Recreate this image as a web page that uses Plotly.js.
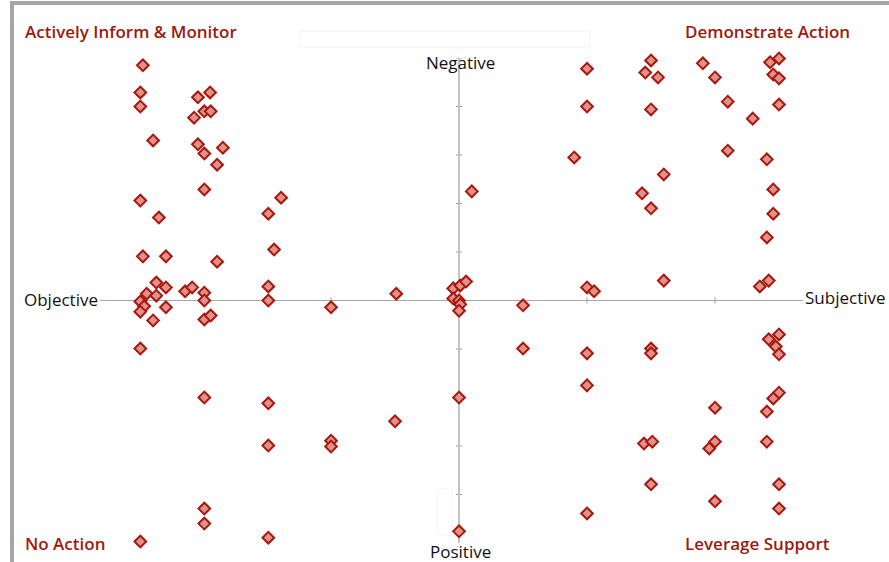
<!DOCTYPE html>
<html>
<head>
<meta charset="utf-8">
<script src="https://cdn.plot.ly/plotly-3.0.1.min.js"></script>
<style>
html,body{margin:0;padding:0;background:#fff;}
#chart{width:889px;height:562px;}
</style>
</head>
<body>
<div id="chart"></div>
<script>
// Horizontal position: Objective (-5) ... Subjective (+5)
// Vertical position: Positive (-5) ... Negative (+5)
const xValues = [
  -4.94,-4.98,-4.98,-4.78,-4.08,-3.89,-4.14,-3.98,-3.88,-4.08,-3.98,-3.69,-3.78,-3.98,-4.98,-4.69,
  -2.78,-2.98,-2.89,-4.94,-4.58,-3.78,-4.73,-4.58,-4.88,-4.73,-4.28,-4.17,-3.98,-3.98,
  -4.98,-4.92,-4.98,-4.58,-4.78,-3.98,-3.88,-2.98,-2.98,-2.00,-0.98,-4.98,
  -3.98,-2.98,-2.98,-2.00,-2.00,-1.00,-3.98,-3.98,-2.98,-4.98,
  -0.09,0.02,0.11,-0.09,0.00,0.02,0.00,1.00,1.00,2.00,2.11,2.00,0.00,0.00,0.20,1.80,2.00,2.00,2.00,2.00,
  3.00,2.91,3.11,3.81,4.00,4.86,5.00,4.91,5.00,3.00,4.20,4.59,5.00,4.20,4.81,3.20,2.86,4.91,
  3.00,4.91,4.81,3.20,4.84,4.70,5.00,4.84,4.95,5.00,3.00,3.00,5.00,4.91,4.81,4.00,
  2.89,3.02,3.91,4.00,4.81,3.00,5.00,4.00,5.00
];
const yValues = [
  4.85,4.29,4.00,3.30,4.19,4.29,3.77,3.90,3.90,3.22,3.03,3.15,2.80,2.29,2.06,1.71,
  2.12,1.79,1.05,0.91,0.91,0.80,0.37,0.27,0.14,0.10,0.19,0.27,0.16,0.00,
  -0.02,-0.12,-0.23,-0.14,-0.41,-0.39,-0.31,0.29,0.00,-0.14,0.14,-0.99,
  -2.00,-2.12,-2.99,-2.89,-3.01,-2.49,-4.29,-4.60,-4.89,-4.97,
  0.25,0.31,0.39,0.04,0.00,-0.08,-0.21,-0.10,-0.99,0.27,0.19,-1.09,-2.00,-4.76,2.25,2.95,4.78,4.00,-1.75,-4.39,
  4.95,4.70,4.60,4.89,4.60,4.91,4.99,4.66,4.58,3.94,4.10,3.75,4.04,3.09,2.91,2.60,2.21,2.29,
  1.90,1.79,1.30,0.41,0.41,0.29,-0.70,-0.80,-0.95,-1.11,-0.99,-1.09,-1.90,-2.02,-2.29,-2.21,
  -2.95,-2.91,-3.05,-2.91,-2.91,-3.79,-3.79,-4.14,-4.29
];
const xTicks = [-4,-2,2,4];
const yTicks = [-4,-3,-2,-1,1,2,3,4,5];
const quadrantLabels = ["Actively Inform & Monitor","Demonstrate Action","No Action","Leverage Support"];
const axisLabels = ["Objective","Subjective","Negative","Positive"];

const W = 889, H = 562;
const L = 100, R = 803, T = 58, B = 543;
const px = x => (x - L) / (R - L);
const py = y => (B - y) / (B - T);

const xRange = [-5.61, 5.375];
const yRange = [-5, 5];
const xPerPx = (xRange[1]-xRange[0])/(R-L);
const yPerPx = (yRange[1]-yRange[0])/(B-T);

const shapes = [];
// frame
shapes.push({type:'rect',xref:'paper',yref:'paper',x0:px(10),x1:px(14),y0:py(562),y1:py(1),fillcolor:'#a6a6a6',line:{width:0},layer:'below'});
shapes.push({type:'rect',xref:'paper',yref:'paper',x0:px(10),x1:px(889),y0:py(5),y1:py(1),fillcolor:'#a6a6a6',line:{width:0},layer:'below'});
// faint boxes
shapes.push({type:'rect',xref:'paper',yref:'paper',x0:px(300),x1:px(590),y0:py(47),y1:py(31),line:{color:'#f2f2f2',width:1},layer:'below'});
shapes.push({type:'rect',xref:'paper',yref:'paper',x0:px(437),x1:px(452),y0:py(535),y1:py(489),line:{color:'#f5f5f5',width:1},layer:'below'});
// ticks
xTicks.forEach(t=>shapes.push({type:'line',xref:'x',yref:'y',x0:t,x1:t,y0:-3*yPerPx,y1:3*yPerPx,line:{color:'#999',width:1},layer:'below'}));
yTicks.forEach(t=>shapes.push({type:'line',xref:'x',yref:'y',x0:-3*xPerPx,x1:3*xPerPx,y0:t,y1:t,line:{color:'#999',width:1},layer:'below'}));

const red = '#9c1a0e';
const cornerFont = {family:'"Open Sans", sans-serif', size:17, color:red, weight:600};
const axFont = {family:'"Open Sans", sans-serif', size:17, color:'#111'};
const annotations = [
  {text:quadrantLabels[0],x:px(24),y:py(32),xanchor:'left',yanchor:'middle',font:cornerFont},
  {text:quadrantLabels[1],x:px(851),y:py(32),xanchor:'right',yanchor:'middle',font:cornerFont},
  {text:quadrantLabels[2],x:px(24),y:py(543),xanchor:'left',yanchor:'middle',font:cornerFont},
  {text:quadrantLabels[3],x:px(831),y:py(543),xanchor:'right',yanchor:'middle',font:cornerFont},
  {text:axisLabels[0],x:px(23),y:py(299),xanchor:'left',yanchor:'middle',font:axFont},
  {text:axisLabels[1],x:px(804),y:py(297),xanchor:'left',yanchor:'middle',font:axFont},
  {text:axisLabels[2],x:px(460),y:py(63),xanchor:'center',yanchor:'middle',font:axFont},
  {text:axisLabels[3],x:px(460),y:py(551),xanchor:'center',yanchor:'middle',font:axFont}
].map(a=>Object.assign({xref:'paper',yref:'paper',showarrow:false,borderpad:0},a));

const trace = {
  type:'scatter', mode:'markers', x:xValues, y:yValues, cliponaxis:false,
  marker:{symbol:'diamond', size:9, color:'#e0918b', line:{color:'#a8170d', width:2}},
  hoverinfo:'skip'
};

const layout = {
  width:W, height:H,
  margin:{l:L, r:W-R, t:T, b:H-B, pad:0},
  paper_bgcolor:'#fff', plot_bgcolor:'#fff',
  showlegend:false,
  xaxis:{range:xRange, showgrid:false, showticklabels:false, ticks:'', showline:false,
         zeroline:true, zerolinecolor:'#c4c4c4', zerolinewidth:2, fixedrange:true},
  yaxis:{range:yRange, showgrid:false, showticklabels:false, ticks:'', showline:false,
         zeroline:true, zerolinecolor:'#a6a6a6', zerolinewidth:1, fixedrange:true},
  shapes:shapes, annotations:annotations
};

Plotly.newPlot('chart',[trace],layout,{displayModeBar:false,staticPlot:true});
</script>
</body>
</html>
